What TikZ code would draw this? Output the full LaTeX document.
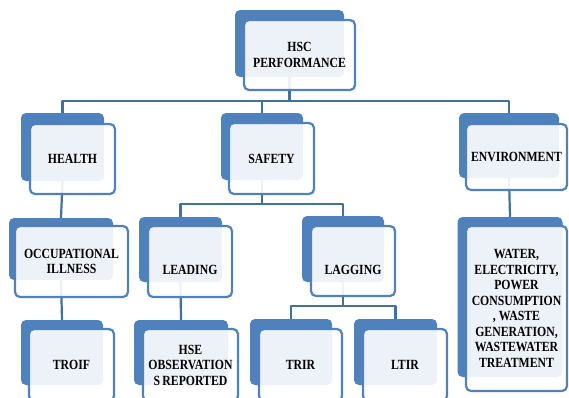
\documentclass[tikz,border=0pt]{standalone}
\usepackage{fontspec}
\setmainfont{Liberation Serif}[FakeStretch=0.84]
\definecolor{sablue}{HTML}{4F81BD}
\definecolor{lineblue}{HTML}{41719C}
\begin{document}
\begin{tikzpicture}[x=1pt,y=-1pt,
  backbox/.style={draw=none, fill=sablue, rounded corners=5pt, inner sep=0pt, outer sep=0pt},
  frontbox/.style={draw=sablue, line width=2.2pt, fill=white, fill opacity=0.9, text opacity=1,
    rounded corners=5pt, inner sep=0pt, outer sep=0pt, align=center, text=black,
    font=\fontsize{14}{15.5}\selectfont\bfseries},
  conn/.style={draw=lineblue, line width=2.2pt, line join=round}]
\clip (0,0) rectangle (569,397);
\fill[white] (0,0) rectangle (569,397);
% level coordinates of the horizontal connector runs
\coordinate (h1) at (0,101);
\coordinate (h2) at (0,204);
\coordinate (h3) at (0,306);
% back boxes
\node[backbox, minimum width=109pt, minimum height=67pt] (bHSC) at (289.5,43.5) {};
\node[backbox, minimum width=83pt, minimum height=68pt] (bHEALTH) at (62.5,147) {};
\node[backbox, minimum width=82pt, minimum height=67pt] (bSAFETY) at (262,146.5) {};
\node[backbox, minimum width=100pt, minimum height=65pt] (bENV) at (509,145.5) {};
\node[backbox, minimum width=104pt, minimum height=62pt] (bOCC) at (61,249) {};
\node[backbox, minimum width=83pt, minimum height=65pt] (bLEAD) at (180.5,249.5) {};
\node[backbox, minimum width=82pt, minimum height=66pt] (bLAG) at (343,249) {};
\node[backbox, minimum width=82pt, minimum height=65pt] (bTROIF) at (62,352.5) {};
\node[backbox, minimum width=94pt, minimum height=65pt] (bHSE) at (181,352.5) {};
\node[backbox, minimum width=82pt, minimum height=66pt] (bTRIR) at (291,352) {};
\node[backbox, minimum width=83pt, minimum height=66pt] (bLTIR) at (395.5,352) {};
\node[backbox, minimum width=105pt, minimum height=160pt] (bWATER) at (510,297) {};
% connectors
\foreach \c in {bHEALTH,bSAFETY,bENV}
  \draw[conn] (bHSC.south) -- (bHSC.south |- h1) -| (\c.north);
\draw[conn] (bHEALTH.south) -- (bOCC.north);
\draw[conn] (bOCC.south) -- (bTROIF.north);
\foreach \c in {bLEAD,bLAG}
  \draw[conn] (bSAFETY.south) -- (bSAFETY.south |- h2) -| (\c.north);
\draw[conn] (bLEAD.south) -- (bHSE.north);
\foreach \c in {bTRIR,bLTIR}
  \draw[conn] (bLAG.south) -- (bLAG.south |- h3) -| (\c.north);
\draw[conn] (bENV.south) -- (bWATER.north);
% front boxes
\node[frontbox, minimum width=111pt, minimum height=70pt] (fHSC) at (299.5,55) {HSC\\PERFORMANCE};
\node[frontbox, minimum width=85pt, minimum height=70pt] (fHEALTH) at (72.5,159) {HEALTH};
\node[frontbox, minimum width=85pt, minimum height=71pt] (fSAFETY) at (271.5,158.5) {SAFETY};
\node[frontbox, minimum width=101pt, minimum height=66pt] (fENV) at (516.5,157) {ENVIRONMENT};
\node[frontbox, minimum width=113pt, minimum height=71pt] (fOCC) at (71.5,261.5) {OCCUPATIONAL\\ILLNESS};
\node[frontbox, minimum width=84pt, minimum height=71pt] (fLEAD) at (190,261.5) {\strut\\LEADING};
\node[frontbox, minimum width=84pt, minimum height=70pt] (fLAG) at (353,261) {\strut\\LAGGING};
\node[frontbox, minimum width=85pt, minimum height=72pt] (fTROIF) at (71.5,365) {TROIF};
\node[frontbox, minimum width=95pt, minimum height=72pt] (fHSE) at (190.5,365) {HSE\\OBSERVATION\\S\,REPORTED};
\node[frontbox, minimum width=83pt, minimum height=72pt] (fTRIR) at (300.5,365) {TRIR};
\node[frontbox, minimum width=84pt, minimum height=72pt] (fLTIR) at (405,365) {LTIR};
\node[frontbox, minimum width=101pt, minimum height=165pt] (fWATER) at (516.5,308.5)
  {WATER,\\ELECTRICITY,\\POWER\\CONSUMPTION\\, WASTE\\GENERATION,\\WASTEWATER\\TREATMENT};
\end{tikzpicture}
\end{document}
